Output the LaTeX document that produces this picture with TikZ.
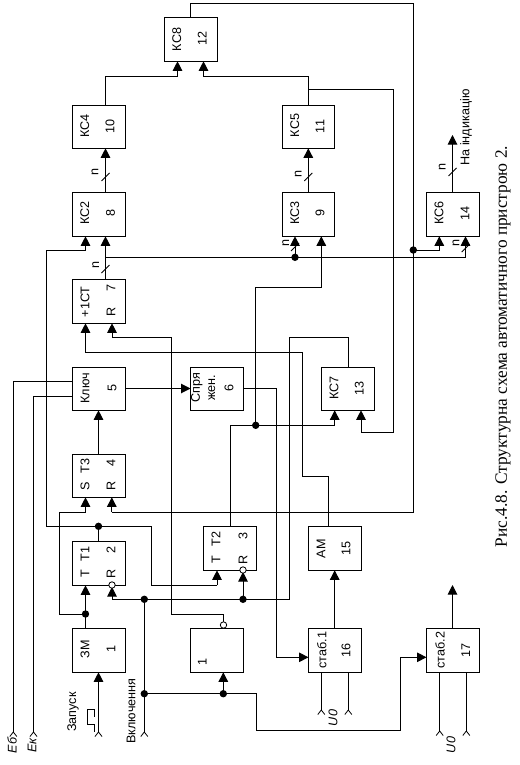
\documentclass[tikz,border=0pt]{standalone}
\usepackage{fontspec}
\setmainfont{Liberation Sans}
\newfontfamily\capfont{Liberation Serif}
\usetikzlibrary{arrows.meta}
\tikzset{
  blk/.style={draw,line width=1pt,fill=white,inner sep=0pt,outer sep=0pt},
  wire/.style={line width=1pt},
  arr/.style={wire,-{Triangle[width=9.5pt,length=9.5pt]}},
  lab/.style={rotate=90,inner sep=0pt,font=\fontsize{12.6}{12.6}\selectfont},
  ilab/.style={rotate=90,inner sep=0pt,font=\fontsize{12.6}{12.6}\selectfont\itshape},
  dotc/.style={circle,fill=black,inner sep=0pt,minimum size=7.4pt},
  inv/.style={circle,draw,line width=.8pt,fill=white,inner sep=0pt,minimum size=6.4pt},
}
\newcommand{\blkb}[5]{\node[blk,minimum width=#4 pt-#2 pt,minimum height=#5 pt-#3 pt] (#1) at ({(#2+#4)/2},{(#3+#5)/2}) {};}
\newcommand{\lbl}[4]{\node[lab] (#1) at (#2,#3) {#4};}
\newcommand{\chev}[1]{\draw[line width=.8pt] ([shift={(-3.5pt,-4.5pt)}]#1) -- (#1) -- ([shift={(3.5pt,-4.5pt)}]#1);}
\newcommand{\nslash}[1]{\draw[line width=.8pt] ([shift={(-4pt,-4pt)}]#1) -- ([shift={(4pt,4pt)}]#1);}
\begin{document}
\begin{tikzpicture}[x=1pt,y=-1pt]
\useasboundingbox (0,0) rectangle (519,765);
% blocks
\blkb{b12}{164.5}{17.3}{217.5}{61.3}
\blkb{b10}{72.5}{105.3}{125.5}{148.3}
\blkb{b8}{72.5}{192.3}{125.5}{236.3}
\blkb{b11}{282.5}{105.3}{334.7}{148.3}
\blkb{b9}{282.5}{192.3}{334.7}{236.3}
\blkb{b14}{426.5}{192.3}{479.5}{236.3}
\blkb{b7}{72.5}{279.3}{125.5}{323.3}
\blkb{b5}{72.5}{367.3}{125.5}{410.3}
\blkb{b6}{190.5}{367.3}{243.5}{410.3}
\blkb{b13}{321.5}{367.3}{374.5}{410.3}
\blkb{b4}{72.5}{454.3}{125.5}{497.3}
\blkb{b2}{72.5}{541.3}{125.5}{585.3}
\blkb{b3}{203.5}{526.7}{256.5}{570.3}
\blkb{b15}{308.5}{526.7}{361.5}{570.3}
\blkb{b1}{72.5}{628.3}{125.5}{672.3}
\blkb{b0}{190.5}{628.3}{243.5}{672.3}
\blkb{b16}{308.5}{628.3}{361.5}{672.3}
\blkb{b17}{426.5}{628.3}{479.5}{672.3}
% free-end and junction points
\coordinate (jn) at (295,257.3);
\coordinate (jf) at (413.3,250);
\coordinate (jt) at (255.7,425.3);
\coordinate (jr) at (98.5,526.3);
\coordinate (js) at (85.5,614);
\coordinate (jv) at (144.3,599.3);
\coordinate (jw) at (243,599.3);
\coordinate (jo) at (144.3,693.7);
\coordinate (jp) at (223.3,693.7);
% top feedback
\draw[wire] (b12.north west-|190.3,0) -- (190.3,3.5) -- (413.5,3.5) -- (413.5,512.3) -- (111.8,512.3);
\draw[arr] (111.8,512.3) -- (b4.south west-|111.8,0);
\draw[arr] (413.5,250) -| (b14.south west-|439.3,0);
\draw[arr] (105.5,177) -- (b10.south west-|105.5,0);
\draw[wire] (b8.north west-|105.5,0) -- (105.5,177);
\draw[wire] (b10.north west-|105.5,0) |- (177.5,76.3);
\draw[arr] (177.5,76.3) -- (b12.south west-|177.5,0);
\draw[arr] (b11.north west-|308.3,0) |- (203.5,76.3) -- (b12.south west-|203.5,0);
\draw[wire] (308.3,90) -- (393.5,90) -- (393.5,432.3) -- (361,432.3);
\draw[arr] (361,432.3) -- (b13.south west-|361,0);
\draw[arr] (b9.north west-|308.3,0) -- (b11.south west-|308.3,0);
\draw[arr] (b14.north west-|452.5,0) -- (452.5,135);
% n bus
\draw[arr] (b7.north west-|105.5,0) -- (b8.south west-|105.5,0);
\draw[wire] (105.5,257.3) -- (465.5,257.3);
\draw[arr] (465.5,257.3) -- (b14.south west-|465.5,0);
\draw[arr] (jn) -- (b9.south west-|295,0);
\draw[arr] (255.7,425.3) |- (321.3,287.7) -- (b9.south west-|321.3,0);
% KC2 left input
\draw[arr] (46.3,250.3) -| (b8.south west-|85.5,0);
\draw[wire] (46.3,250.3) |- (151.7,526.3) |- (217,585.3);
\draw[arr] (217,585.3) -- (b3.south west-|217,0);
\draw[wire] (jr) -- (b2.north west-|98.5,0);
% T3 S
\draw[arr] (59.3,614) |- (85.5,512.3) -- (b4.south west-|85.5,0);
\draw[wire] (59.3,614) -- (js);
\draw[arr] (b1.north west-|85.5,0) -- (b2.south west-|85.5,0);
\draw[arr] (b4.north west-|98.5,0) -- (b5.south west-|98.5,0);
% Key
\draw[wire] (b5.north west|-0,381.3) -| (13.3,732);
\draw[wire] (b5.north west|-0,396.3) -| (33.5,732);
\draw[arr] (b5.north east|-0,388.5) -- (b6.north west|-0,388.5);
% +1CT
\draw[arr] (223.5,625) |- (171.7,614.7) |- (112,337.7) -- (b7.south west-|112,0);
\draw[arr] (328.3,526.7) |- (302.3,476.3) |- (85.5,352.3) -- (b7.south west-|85.5,0);
\draw[arr] (b6.north east|-0,388.5) -| (276.7,657.3) -- (b16.north west|-0,657.3);
% KC7 output
\draw[wire] (b13.north west-|348.7,0) |- (289.7,337.7) |- (112,599.3);
\draw[arr] (112,599.3) -- (112,587);
\draw[arr] (jw) -- (243,572);
% T2 output
\draw[wire] (b3.north west-|230.3,0) |- (334.7,425.3);
\draw[arr] (334.7,425.3) -- (b13.south west-|334.7,0);
% Vkl
\draw[wire] (144.3,732) -- (jv);
\draw[wire] (jo) -- (256.7,693.7) -- (256.7,730) -- (400.3,730) -- (400.3,657.3);
\draw[arr] (400.3,657.3) -- (b17.north west|-0,657.3);
\draw[arr] (jp) -- (b0.south west-|223.3,0);
% start
\draw[arr] (98.5,732) -- (b1.south west-|98.5,0);
\draw[line width=.8pt] (94.3,716.7) -- (94.3,709.3) -- (87.3,709.3) -- (87.3,724.3) -- (94.3,724.3) -- (94.3,731.7);
% right
\draw[arr] (b16.north west-|334.7,0) -- (b15.south west-|334.7,0);
\draw[arr] (b17.north west-|452.5,0) -- (452.5,585);
\draw[wire] (b16.south west-|321.3,0) -- (321.3,710);
\draw[wire] (b16.south west-|348.3,0) -- (348.3,710);
\draw[wire] (b17.south west-|439.7,0) -- (439.7,731);
\draw[wire] (b17.south west-|466.3,0) -- (466.3,731);
% dots
\foreach \p in {jn,jf,jt,jr,js,jv,jw,jo,jp}{\node[dotc] at (\p) {};}
\node[inv] (i1) at (112,585) {};
\node[inv] (i2) at (243,570) {};
\node[inv] (i3) at (223.5,625) {};
% terminals
\coordinate (t1) at (13.3,732); \chev{t1}
\coordinate (t2) at (33.5,732); \chev{t2}
\coordinate (t3) at (98.5,732); \chev{t3}
\coordinate (t4) at (144.3,732); \chev{t4}
\coordinate (t5) at (321.3,710); \chev{t5}
\coordinate (t6) at (348.3,710); \chev{t6}
\coordinate (t7) at (439.7,731); \chev{t7}
\coordinate (t8) at (466.3,731); \chev{t8}
% slashes
\coordinate (s1) at (105.5,177); \nslash{s1}
\coordinate (s2) at (105.5,269); \nslash{s2}
\coordinate (s3) at (308.3,177); \nslash{s3}
\coordinate (s4) at (452.5,172); \nslash{s4}
\coordinate (s5) at (295,247); \nslash{s5}
\coordinate (s6) at (465.7,248); \nslash{s6}
% labels
\lbl{l1}{176.7}{39.5}{КС8}\lbl{l2}{202.3}{38.5}{12}
\lbl{l3}{84.7}{126}{КС4}\lbl{l4}{110}{126.5}{10}
\lbl{l5}{84.7}{213}{КС2}\lbl{l6}{110.5}{212.7}{8}
\lbl{l7}{294.7}{125.5}{КС5}\lbl{l8}{320}{126.5}{11}
\lbl{l9}{294.7}{213}{КС3}\lbl{l10}{320}{213}{9}
\lbl{l11}{439}{213}{КС6}\lbl{l12}{465}{213}{14}
\lbl{l13}{85}{301.7}{+1СТ}\lbl{l14}{111}{288.3}{7}\lbl{l15}{111}{311.7}{R}
\lbl{l16}{85}{388.3}{Ключ}\lbl{l17}{112}{388}{5}
\lbl{l18}{196.7}{387.7}{Спря}\lbl{l19}{211.7}{387.7}{жен.}\lbl{l20}{229}{388}{6}
\lbl{l21}{85}{486}{S}\lbl{l22}{85}{466}{Т3}\lbl{l23}{111}{486}{R}\lbl{l24}{111}{462.7}{4}
\lbl{l25}{334}{388.3}{КС7}\lbl{l26}{359.3}{388}{13}
\lbl{l27}{85}{574}{Т}\lbl{l28}{85}{554}{Т1}\lbl{l29}{111}{574}{R}\lbl{l30}{111}{550}{2}
\lbl{l31}{216}{560}{Т}\lbl{l32}{216}{539.3}{Т2}\lbl{l33}{243}{560}{R}\lbl{l34}{243}{535.7}{3}
\lbl{l35}{85}{649.3}{ЗМ}\lbl{l36}{111}{649}{1}
\lbl{l37}{202.3}{662}{1}
\lbl{l38}{321}{548.7}{АМ}\lbl{l39}{346}{548}{15}
\lbl{l40}{321.7}{650}{стаб.1}\lbl{l41}{346}{650.7}{16}
\lbl{l42}{440}{650}{стаб.2}\lbl{l43}{465.7}{650}{17}
\lbl{l44}{95}{171.7}{n}\lbl{l45}{298.3}{174}{n}\lbl{l46}{442.3}{167}{n}
\lbl{l47}{285.7}{243}{n}\lbl{l48}{456}{243}{n}\lbl{l49}{95.7}{265}{n}
\lbl{l50}{466}{127.5}{На індикацію}
\lbl{l51}{73}{712}{Запуск}
\lbl{l52}{131}{711}{Включення}
\node[ilab] (l53) at (12,745.5) {Еб};
\node[ilab] (l54) at (32,745.5) {Ек};
\node[ilab] (l55) at (333,718) {U0};
\node[ilab] (l56) at (451,745) {U0};
\node[lab,font=\capfont\fontsize{17.3}{17.3}\selectfont] (cap) at (503,346.5) {Рис.4.8. Структурна схема автоматичного пристрою 2.};
\end{tikzpicture}
\end{document}
